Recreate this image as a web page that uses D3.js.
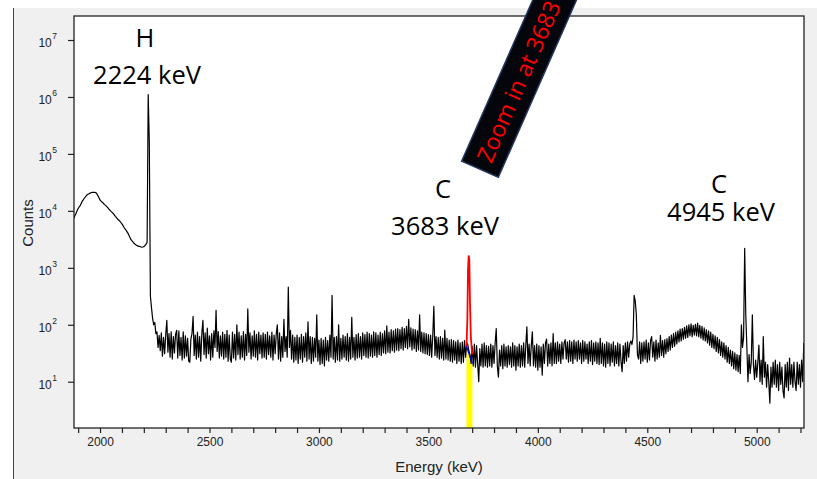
<!DOCTYPE html>
<html>
<head>
<meta charset="utf-8">
<script src="https://cdn.jsdelivr.net/npm/d3@7"></script>
<style>
body { margin: 0; background: #fff; }
svg { display: block; }
.tick text { font-family: "Liberation Sans", Arial, sans-serif; font-size: 12px; fill: #222; }
.tick line { stroke: #222; }
.note { font-family: "Open Sans", sans-serif; font-size: 25.5px; fill: #000; text-anchor: middle; }
</style>
</head>
<body>
<svg></svg>
<script>
let svgWidth = 817
let svgHeight = 479

// spectrum, one value per 5 keV channel starting at 1880 keV (one row = 100 keV)
const channelStart = 1880
const channelStep = 5
const counts = [
  7450, 8200, 9000, 10000, 11000, 11800, 12500, 13800, 15000, 16000, 17000, 18000, 19000, 19500, 20000, 20500, 21000, 21100, 21200, 21200,
  21000, 20000, 18500, 17000, 15500, 14800, 14200, 13600, 13000, 12500, 12000, 11400, 10800, 10300, 9800, 9400, 9000, 8500, 8000, 7600,
  7200, 6900, 6600, 6250, 5900, 5500, 5100, 4800, 4500, 4200, 3900, 3500, 3200, 3000, 2850, 2700, 2600, 2520, 2450, 2400,
  2380, 2340, 2300, 2320, 2350, 2450, 2600, 2800, 1100000, 160000, 320, 200, 130, 100, 110, 70, 75, 40, 65, 35,
  72, 28, 60, 31, 66, 120, 33, 70, 27, 75, 25, 62, 32, 68, 80, 26, 78, 29, 60, 24,
  75, 26, 64, 28, 58, 23, 22, 56, 70, 140, 29, 66, 25, 74, 27, 62, 23, 70, 120, 30,
  72, 26, 87, 31, 64, 24, 70, 27, 78, 40, 180, 34, 76, 26, 64, 28, 74, 25, 68, 27,
  80, 23, 66, 25, 22, 74, 26, 68, 24, 100, 30, 74, 25, 64, 27, 76, 24, 68, 29, 190,
  33, 72, 25, 64, 28, 78, 27, 68, 24, 74, 31, 66, 26, 72, 27, 68, 25, 74, 30, 64,
  27, 74, 24, 66, 31, 70, 100, 25, 72, 23, 62, 27, 125, 34, 62, 27, 460, 40, 80, 25,
  66, 22, 60, 24, 66, 21, 60, 25, 68, 22, 62, 27, 72, 23, 113, 25, 62, 21, 60, 23,
  58, 27, 150, 23, 54, 20, 58, 21, 54, 19, 60, 24, 53, 23, 66, 27, 330, 25, 60, 22,
  62, 24, 100, 23, 58, 25, 66, 27, 62, 24, 70, 23, 60, 25, 135, 27, 60, 24, 67, 26,
  70, 27, 62, 25, 72, 29, 67, 27, 74, 26, 70, 28, 66, 27, 75, 29, 72, 27, 66, 30,
  74, 29, 70, 32, 78, 31, 96, 33, 74, 32, 82, 35, 78, 33, 84, 36, 86, 35, 82, 38,
  90, 36, 86, 40, 94, 38, 125, 41, 88, 36, 84, 38, 82, 34, 78, 36, 150, 34, 74, 32,
  72, 31, 70, 30, 67, 29, 66, 27, 65, 210, 29, 62, 27, 60, 25, 62, 26, 58, 24, 81,
  25, 58, 24, 54, 23, 55, 22, 53, 24, 50, 21, 54, 23, 48, 21, 50, 22, 53, 27, 48,
  45, 35, 30, 21, 42, 19, 46, 18, 43, 21, 10, 38, 19, 46, 18, 48, 19, 43, 18, 42,
  19, 46, 18, 43, 21, 48, 86, 19, 12, 36, 19, 43, 17, 46, 19, 41, 18, 43, 20, 41,
  18, 48, 19, 43, 16, 41, 19, 46, 18, 43, 19, 48, 18, 43, 92, 21, 46, 19, 43, 75,
  19, 43, 18, 46, 16, 43, 18, 41, 13, 46, 21, 48, 56, 19, 46, 21, 48, 19, 70, 21,
  48, 21, 50, 23, 46, 21, 50, 25, 48, 55, 25, 50, 22, 53, 23, 50, 21, 54, 25, 50,
  23, 53, 25, 48, 21, 53, 23, 50, 25, 46, 21, 50, 23, 53, 20, 48, 23, 50, 21, 48,
  20, 58, 21, 48, 19, 46, 18, 50, 21, 48, 19, 46, 22, 50, 19, 43, 21, 48, 19, 46,
  23, 15, 43, 21, 48, 23, 50, 27, 46, 52, 45, 60, 330, 260, 150, 30, 25, 50, 21, 48,
  23, 50, 25, 54, 22, 48, 24, 53, 62, 27, 50, 23, 54, 25, 48, 27, 65, 29, 53, 27,
  55, 31, 57, 34, 62, 36, 66, 40, 70, 42, 74, 46, 78, 50, 84, 52, 86, 56, 90, 58,
  96, 60, 100, 64, 104, 62, 98, 66, 102, 64, 107, 62, 98, 58, 94, 54, 88, 52, 82, 48,
  78, 44, 74, 40, 68, 38, 64, 34, 60, 32, 55, 29, 50, 27, 48, 25, 43, 22, 40, 21,
  36, 19, 34, 17, 32, 16, 30, 15, 29, 14, 100, 40, 60, 2200, 150, 40, 10, 30, 14, 22,
  150, 20, 11, 24, 12, 22, 44, 10, 24, 9, 62, 12, 22, 8, 20, 10, 4.2, 18, 8, 22,
  9, 24, 8, 20, 7, 22, 9, 18, 7, 5.2, 20, 8, 22, 7, 26, 9, 20, 8, 22, 10,
  7, 22, 9, 20, 8, 24, 10, 48
]

// 3683 keV region of interest
const roiEnergy = [3674, 3678, 3681, 3684, 3687, 3690, 3694, 3700]
const roiCounts = [40, 120, 900, 1650, 1400, 250, 60, 30]
const bgEnergy = [3674, 3701]
const bgCounts = [42, 21]

const xTicks = d3.range(1900, 5201, 100)
const xLabels = [2000, 2500, 3000, 3500, 4000, 4500, 5000]
const yTicks = [1e1, 1e2, 1e3, 1e4, 1e5, 1e6, 1e7]

const notes = [
  { text: 'H', x: 145, y: 47 },
  { text: '2224 keV', x: 147, y: 84 },
  { text: 'C', x: 443, y: 198 },
  { text: '3683 keV', x: 445, y: 235 },
  { text: 'C', x: 719, y: 193 },
  { text: '4945 keV', x: 721, y: 221 }
]

let margin = { left: 74, top: 16, right: 13, bottom: 51 }

let svg = d3.select('svg')
  .attr('width', svgWidth)
  .attr('height', svgHeight)

// window background
svg.append('rect')
  .attr('x', 13).attr('y', 8)
  .attr('width', svgWidth - 13).attr('height', svgHeight - 8)
  .attr('fill', '#f0f0f0')
svg.append('line')
  .attr('x1', 13.5).attr('x2', 13.5).attr('y1', 8).attr('y2', svgHeight)
  .attr('stroke', '#444')

let x = d3.scaleLinear()
  .domain([1881, 5216])
  .range([margin.left, svgWidth - margin.right])
let y = d3.scaleLog()
  .domain([1.54, 2.64e7])
  .range([svgHeight - margin.bottom, margin.top])

svg.append('rect')
  .attr('x', margin.left).attr('y', margin.top)
  .attr('width', x.range()[1] - margin.left)
  .attr('height', y.range()[0] - margin.top)
  .attr('fill', '#fff')

svg.append('clipPath').attr('id', 'plot')
  .append('rect')
  .attr('x', margin.left).attr('y', margin.top)
  .attr('width', x.range()[1] - margin.left)
  .attr('height', y.range()[0] - margin.top)

let g = svg.append('g').attr('clip-path', 'url(#plot)')

// yellow area under background
g.append('path')
  .datum(bgEnergy.map((e, i) => [e, bgCounts[i]]))
  .attr('d', d3.area().x(d => x(d[0])).y0(y.range()[0]).y1(d => y(d[1])))
  .attr('fill', '#ffff00')

let spectrum = counts.map((c, i) => [channelStart + i * channelStep, c])
g.append('path')
  .datum(spectrum)
  .attr('d', d3.line().x(d => x(d[0])).y(d => y(d[1])))
  .attr('fill', 'none')
  .attr('stroke', '#000')
  .attr('stroke-width', 1.2)
  .attr('stroke-linejoin', 'round')

g.append('path')
  .datum(roiEnergy.map((e, i) => [e, roiCounts[i]]))
  .attr('d', d3.line().x(d => x(d[0])).y(d => y(d[1])))
  .attr('fill', 'none')
  .attr('stroke', '#ff0000')
  .attr('stroke-width', 1.8)

g.append('path')
  .datum(bgEnergy.map((e, i) => [e, bgCounts[i]]))
  .attr('d', d3.line().x(d => x(d[0])).y(d => y(d[1])))
  .attr('fill', 'none')
  .attr('stroke', '#0000ff')
  .attr('stroke-width', 1.4)

// frame
svg.append('rect')
  .attr('x', margin.left).attr('y', margin.top)
  .attr('width', x.range()[1] - margin.left)
  .attr('height', y.range()[0] - margin.top)
  .attr('fill', 'none')
  .attr('stroke', '#222')
  .attr('stroke-width', 1.3)

let xAxis = svg.append('g')
  .attr('transform', `translate(0,${y.range()[0]})`)
  .call(d3.axisBottom(x)
    .tickValues(xTicks)
    .tickSize(5)
    .tickSizeOuter(0)
    .tickPadding(4)
    .tickFormat(d => xLabels.includes(d) ? d : ''))
xAxis.select('.domain').remove()
xAxis.selectAll('.tick line').attr('stroke-width', 1.2)

let yAxis = svg.append('g')
  .attr('transform', `translate(${margin.left},0)`)
  .call(d3.axisLeft(y).tickValues(yTicks).tickSize(6).tickSizeOuter(0))
yAxis.select('.domain').remove()
yAxis.selectAll('.tick line').attr('stroke-width', 1.2)
yAxis.selectAll('.tick text').each(function(d) {
  let t = d3.select(this).text('')
    .attr('x', -17).attr('dy', '0.55em').attr('text-anchor', 'end')
  t.append('tspan').text('10')
  t.append('tspan').text(Math.round(Math.log10(d)))
    .attr('font-size', '8.5px').attr('dy', '-0.9em').attr('dx', '0.5')
})

svg.append('text')
  .attr('x', 439).attr('y', 472)
  .attr('text-anchor', 'middle')
  .style('font-family', '"Liberation Sans", Arial, sans-serif')
  .style('font-size', '15px').style('fill', '#222')
  .text('Energy (keV)')

svg.append('text')
  .attr('transform', 'translate(33,223) rotate(-90)')
  .attr('text-anchor', 'middle')
  .style('font-family', '"Liberation Sans", Arial, sans-serif')
  .style('font-size', '15px').style('fill', '#222')
  .text('Counts')

svg.selectAll('.note').data(notes)
  .enter()
  .append('text')
  .attr('class', 'note')
  .attr('x', d => d.x)
  .attr('y', d => d.y)
  .text(d => d.text)

// rotated callout box, running off the top edge
let callout = svg.append('g')
  .attr('transform', 'translate(480,169.2) rotate(-66.2)')
callout.append('rect')
  .attr('x', 0).attr('y', -20)
  .attr('width', 320).attr('height', 40)
  .attr('fill', '#04060c')
  .attr('stroke', '#24365e')
  .attr('stroke-width', 1.5)
callout.append('text')
  .attr('x', 9).attr('y', 0).attr('dy', '0.36em')
  .style('font-family', '"Open Sans", sans-serif')
  .style('font-size', '23px')
  .style('fill', '#ff0000')
  .text('Zoom in at 3683 keV')
</script>
</body>
</html>
